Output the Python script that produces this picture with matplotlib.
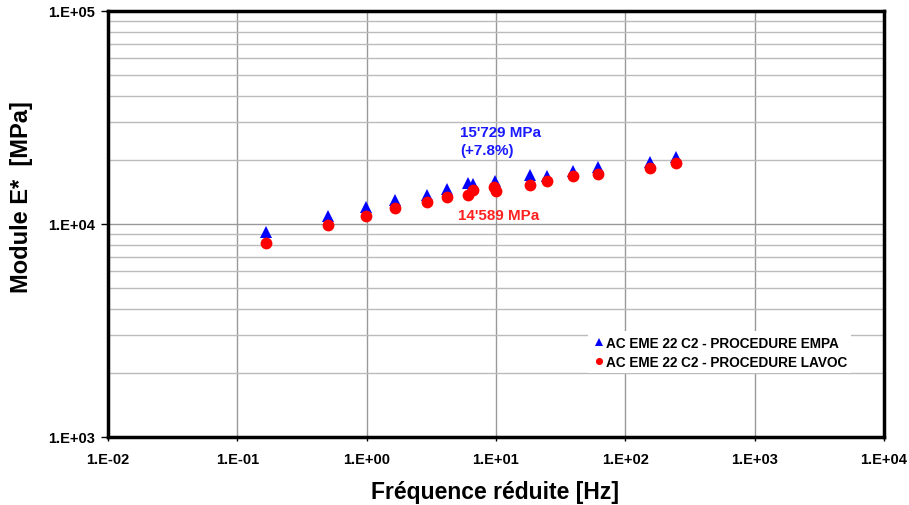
import matplotlib
matplotlib.use("Agg")
import matplotlib.pyplot as plt
from matplotlib.ticker import LogLocator, FixedLocator, NullFormatter

plt.rcParams['font.family'] = ['Liberation Sans', 'DejaVu Sans']

freq_empa = [0.167, 0.5, 0.98, 1.66, 2.94, 4.18, 6.08, 6.68, 9.8, 18.4, 24.7, 39.6, 61.5, 155, 246]
E_empa = [9140, 10940, 12060, 12970, 13680, 14600, 15520, 15400, 15970, 16990, 16850, 17800, 18580, 19600, 20640]

freq_lavoc = [0.167, 0.5, 0.98, 1.66, 2.94, 4.18, 6.08, 6.68, 9.7, 10.0, 18.4, 24.7, 39.6, 61.5, 155, 246]
E_lavoc = [8140, 9930, 10940, 11850, 12640, 13430, 13640, 14490, 14900, 14250, 15290, 15910, 16850, 17120, 18320, 19270]

label_empa = "AC EME 22 C2 - PROCEDURE EMPA"
label_lavoc = "AC EME 22 C2 - PROCEDURE LAVOC"
note_empa = "15'729 MPa\n(+7.8%)"
note_lavoc = "14'589 MPa"

xticks = [1e-2, 1e-1, 1e0, 1e1, 1e2, 1e3, 1e4]
xticklabels = ["1.E-02", "1.E-01", "1.E+00", "1.E+01", "1.E+02", "1.E+03", "1.E+04"]
yticks = [1e3, 1e4, 1e5]
yticklabels = ["1.E+03", "1.E+04", "1.E+05"]

fig = plt.figure(figsize=(9.09, 5.06), dpi=100)
ax = fig.add_axes([0.1188, 0.1344, 0.8537, 0.8419])
ax.set_xscale('log')
ax.set_yscale('log')
ax.set_xlim(1e-2, 1e4)
ax.set_ylim(1e3, 1e5)

ax.set_xticks(xticks)
ax.set_xticklabels(xticklabels, fontsize=10.5, fontweight='bold')
ax.xaxis.set_minor_locator(FixedLocator([]))
ax.set_yticks(yticks)
ax.set_yticklabels(yticklabels, fontsize=10.5, fontweight='bold')
ax.yaxis.set_minor_locator(LogLocator(base=10, subs=range(2, 10)))
ax.yaxis.set_minor_formatter(NullFormatter())
ax.tick_params(axis='y', which='major', direction='out', length=5, width=1, pad=4)
ax.tick_params(axis='y', which='minor', length=0)
ax.tick_params(axis='x', which='major', direction='out', length=3, width=1, pad=8)

ax.grid(True, which='major', axis='both', color='#999999', lw=1)
ax.grid(True, which='minor', axis='y', color='#bbbbbb', lw=1)
ax.set_axisbelow(True)
for s in ax.spines.values():
    s.set_linewidth(2.5)
    s.set_color('black')

ax.plot(freq_empa, E_empa, linestyle='none', marker='^', color='#0000ff', markersize=9,
        markeredgewidth=0, label=label_empa, zorder=3)
ax.plot(freq_lavoc, E_lavoc, linestyle='none', marker='o', color='#ff0000', markersize=8.5,
        markeredgewidth=0, label=label_lavoc, zorder=4)

ax.text(0.4536, 0.695, note_empa, transform=ax.transAxes, color='#1a1aff', fontsize=10.9,
        fontweight='bold', va='center', ha='left', linespacing=1.3)
ax.text(0.451, 0.521, note_lavoc, transform=ax.transAxes, color='#ff2020', fontsize=10.9,
        fontweight='bold', va='center', ha='left')

leg = ax.legend(loc='lower left', bbox_to_anchor=(0.61, 0.134), frameon=True, fancybox=False,
                edgecolor='none', facecolor='white', framealpha=1,
                prop={'weight': 'bold', 'size': 9.8}, handletextpad=0.0, handlelength=1.0,
                markerscale=0.6, borderpad=0.3, labelspacing=0.4)

ax.set_xlabel("Fréquence réduite [Hz]", fontsize=16.5, fontweight='bold')
ax.xaxis.set_label_coords(0.499, -0.101)
ax.set_ylabel("Module E*  [MPa]", fontsize=17, fontweight='bold')
ax.yaxis.set_label_coords(-0.097, 0.566)

fig.savefig("out.png", dpi=100)
